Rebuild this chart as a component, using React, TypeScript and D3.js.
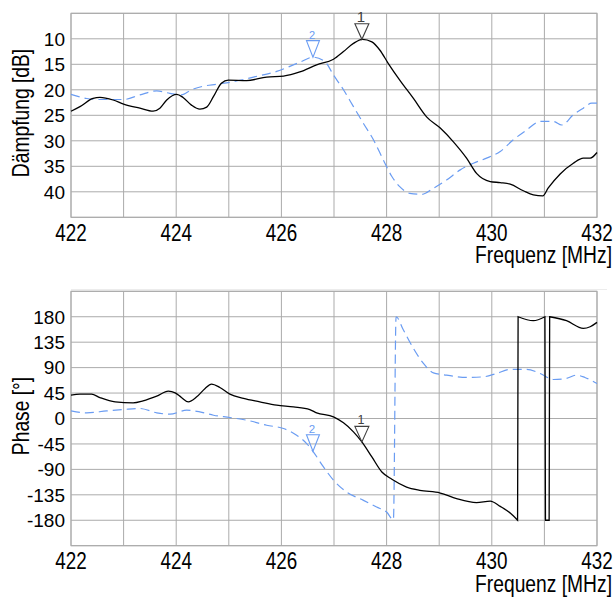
import React from "react";
import * as d3 from "d3";

// ---------- data ----------
const freqTicks = [422, 424, 426, 428, 430, 432];
const freqGrid = [422, 423, 424, 425, 426, 427, 428, 429, 430, 431, 432];
const dbTicks = [10, 15, 20, 25, 30, 35, 40];
const dbGrid = [5, 10, 15, 20, 25, 30, 35, 40, 45];
const phaseTicks = [180, 135, 90, 45, 0, -45, -90, -135, -180];
const phaseGrid = [225, 180, 135, 90, 45, 0, -45, -90, -135, -180, -225];

const dampBlack: [number, number][] = [
  [422, 24.2], [422.17, 23.3], [422.42, 21.7], [422.55, 21.5], [422.8, 22.0], [423.0, 22.8],
  [423.31, 23.6], [423.56, 24.2], [423.69, 23.6], [423.82, 22.0], [424.01, 20.9], [424.13, 21.5],
  [424.29, 23.0], [424.45, 23.8], [424.58, 23.4], [424.71, 21.3], [424.86, 18.7], [424.99, 18.1],
  [425.34, 18.2], [425.72, 17.5], [426.04, 17.3], [426.35, 16.5], [426.67, 15.1], [426.99, 14.0],
  [427.18, 12.5], [427.37, 10.9], [427.54, 10.1], [427.72, 10.6], [427.87, 12.2], [428.03, 14.8],
  [428.25, 18.1], [428.51, 21.7], [428.76, 25.3], [429.02, 27.5], [429.27, 30.2], [429.52, 33.4],
  [429.71, 36.4], [429.97, 38.0], [430.16, 38.2], [430.35, 38.5], [430.6, 39.8], [430.79, 40.6],
  [430.97, 40.8], [431.07, 39.3], [431.3, 36.5], [431.55, 34.4], [431.74, 33.4], [431.87, 33.4],
  [432.0, 32.3],
];

const dampBlue: [number, number][] = [
  [422, 20.9], [422.3, 21.7], [422.55, 21.9], [423, 21.9], [423.31, 21], [423.63, 20.2],
  [423.88, 20.7], [424.1, 21], [424.29, 20], [424.51, 19.3], [424.77, 18.9], [425.09, 18.4],
  [425.47, 17.5], [425.91, 16.4], [426.35, 14.6], [426.6, 13.6], [426.83, 14.5], [426.99, 17.1],
  [427.18, 20], [427.37, 23.3], [427.56, 26.6], [427.75, 29.8], [427.94, 33.8], [428.1, 37],
  [428.25, 39], [428.44, 40.3], [428.67, 40.5], [428.89, 39.3], [429.14, 37.7], [429.4, 35.7],
  [429.65, 34.4], [429.9, 33.4], [430.16, 32.1], [430.41, 29.8], [430.66, 27.9], [430.92, 26.2],
  [431.17, 26.2], [431.33, 26.9], [431.55, 24.9], [431.74, 23.6], [431.9, 22.6], [432, 22.6],
];

const phaseBlack: [number, number][] = [
  [422, 41.3], [422.17, 43], [422.39, 43], [422.55, 37], [422.84, 29.4], [423.18, 27.7],
  [423.37, 31.2], [423.63, 39.5], [423.85, 48.4], [423.98, 45.4], [424.1, 37.2], [424.23, 29.4],
  [424.39, 38.3], [424.55, 53.2], [424.67, 60.8], [424.83, 54.9], [425.02, 43], [425.28, 35.4],
  [425.59, 29.4], [425.91, 23.6], [426.23, 20.6], [426.54, 15.9], [426.67, 10], [426.99, 2.9],
  [427.18, -7.7], [427.37, -23.6], [427.53, -41.4], [427.72, -68], [427.91, -94.6], [428.1, -107.5],
  [428.38, -121.2], [428.63, -127], [429.02, -131.8], [429.33, -141.8], [429.71, -148.8],
  [429.97, -146], [430.16, -155.4], [430.35, -167.3], [430.49, -180],
  [430.5, 180], [430.79, 173], [431.01, 180], [431.02, -180], [431.09, -180], [431.1, 180],
  [431.42, 173], [431.74, 159.5], [431.87, 162.3], [432, 170],
];

const phaseBlue: [number, number][] = [
  [422, 13.5], [422.3, 10], [422.68, 13.5], [423, 15.9], [423.31, 17.7], [423.63, 10],
  [423.88, 7.6], [424.2, 14.7], [424.45, 11.7], [424.71, 5.8], [425.02, 1.8], [425.34, -3],
  [425.72, -11.9], [426.04, -17.7], [426.29, -29.6], [426.48, -44.3], [426.6, -58], [426.8, -85.7],
  [426.99, -109], [427.24, -130], [427.56, -144.8], [427.81, -156.6], [428.0, -165.5],
  [428.13, -179], [428.18, 180], [428.32, 156.4], [428.51, 124], [428.7, 97.4],
  [428.89, 80.8], [429.14, 76.7], [429.52, 72.6], [429.84, 73.7], [430.09, 79.7], [430.35, 86.8],
  [430.66, 86.8], [430.92, 79.7], [431.17, 69], [431.42, 70.9], [431.61, 76.7], [431.77, 72.6],
  [432, 62],
];

// markers: [freq, value, label]
const dampMarkers: [number, number, string][] = [
  [427.53, 10.1, "1"],
  [426.6, 13.6, "2"],
];
const phaseMarkers: [number, number, string][] = [
  [427.53, -41.4, "1"],
  [426.6, -58, "2"],
];

// ---------- layout ----------
const W = 615;
const H = 598;
const left = 71;
const right = 597;
const top1 = 13.3;
const bot1 = 217.3;
const top2 = 291.3;
const bot2 = 545.7;

const GRID = "#ababab";
const BLUE = "#6a9cf2";
const MARK1 = "#404040";
const FONT = "'Liberation Sans', Arial, sans-serif";

const x = d3.scaleLinear().domain([422, 432]).range([left, right]);
const yDb = d3.scaleLinear().domain([5, 45]).range([top1, bot1]);
const yPh = d3.scaleLinear().domain([225, -225]).range([top2, bot2]);

// split a series at its phase wraps (near-identical frequencies)
function splitSegments(data: [number, number][]): [number, number][][] {
  const segs: [number, number][][] = [[data[0]]];
  for (let i = 1; i < data.length; i++) {
    if (data[i][0] - data[i - 1][0] < 0.03) segs.push([data[i]]);
    else segs[segs.length - 1].push(data[i]);
  }
  return segs;
}

function buildPaths(data: [number, number][], y: d3.ScaleLinear<number, number>) {
  const line = d3.line<[number, number]>().x((d) => x(d[0])).y((d) => y(d[1])).curve(d3.curveMonotoneX);
  const segs = splitSegments(data);
  let d = "";
  const jumps: string[] = [];
  segs.forEach((s, i) => {
    const p = s.length > 1 ? line(s) || "" : `M${x(s[0][0])},${y(s[0][1])}`;
    d += i === 0 ? p : "L" + p.slice(1);
    if (i > 0) {
      const a = segs[i - 1][segs[i - 1].length - 1];
      const b = s[0];
      jumps.push(`M${x(a[0])},${y(a[1])}L${x(b[0])},${y(b[1])}`);
    }
  });
  return { d, jumps };
}

function NarrowText(props: {
  x: number; y: number; size: number; anchor?: string; rotate?: boolean; children: React.ReactNode;
}) {
  const t = `translate(${props.x},${props.y})${props.rotate ? " rotate(-90)" : ""} scale(0.82,1)`;
  return (
    <text transform={t} fontSize={props.size} fontFamily={FONT} textAnchor={props.anchor || "middle"} fill="#000">
      {props.children}
    </text>
  );
}

function Panel(props: {
  y: d3.ScaleLinear<number, number>;
  top: number;
  bot: number;
  grid: number[];
  ticks: number[];
  black: [number, number][];
  blue: [number, number][];
  markers: [number, number, string][];
  title: string;
  titleY: number;
  big: boolean;
}) {
  const { y, top, bot } = props;
  const bl = buildPaths(props.black, y);
  const bu = buildPaths(props.blue, y);
  return (
    <g>
      <rect x={left} y={top} width={right - left} height={bot - top} fill="#fff" />
      {freqGrid.map((f) => (
        <line key={"vx" + f} x1={x(f)} x2={x(f)} y1={top} y2={bot} stroke={GRID} strokeWidth={1} />
      ))}
      {props.grid.map((v) => (
        <line key={"hy" + v} x1={left} x2={right} y1={y(v)} y2={y(v)} stroke={GRID} strokeWidth={1} />
      ))}
      <rect x={left} y={top} width={right - left} height={bot - top} fill="none" stroke={GRID} strokeWidth={1} />
      {props.ticks.map((v) => (
        <text key={"yl" + v} x={65} y={y(v)} dy="0.36em" fontSize={19} fontFamily={FONT} textAnchor="end" fill="#000">
          {String(v)}
        </text>
      ))}
      {freqTicks.map((f) => (
        <NarrowText key={"xl" + f} x={x(f)} y={bot + 23.5} size={23}>
          {String(f)}
        </NarrowText>
      ))}
      <NarrowText x={612} y={bot + 46} size={23.5} anchor="end">Frequenz [MHz]</NarrowText>
      <NarrowText x={29} y={props.titleY} size={23.5} rotate>{props.title}</NarrowText>

      <path d={bu.d} fill="none" stroke={BLUE} strokeWidth={1.2} strokeDasharray="9,5" />
      {bu.jumps.map((j, i) => (
        <path key={"bj" + i} d={j} fill="none" stroke={BLUE} strokeWidth={1.3} />
      ))}
      <path d={bl.d} fill="none" stroke="#000" strokeWidth={1.3} />

      {props.markers.map(([f, v, lab]) => {
        const cx = x(f);
        const cy = y(v);
        const is1 = lab === "1";
        const col = is1 ? MARK1 : BLUE;
        const hw = is1 ? 7 : 6.5;
        const h = is1 ? 15.5 : 16.5;
        const fs = props.big ? (is1 ? 15 : 11) : (is1 ? 12.5 : 11.5);
        return (
          <g key={"m" + lab}>
            <path d={`M${cx - hw},${cy - h} L${cx + hw},${cy - h} L${cx},${cy} Z`} fill="none" stroke={col} strokeWidth={1.1} />
            <text x={cx - 1} y={cy - h - 2} fontSize={fs} fontFamily={FONT} textAnchor="middle" fill={col}>
              {lab}
            </text>
          </g>
        );
      })}
    </g>
  );
}

export default function App() {
  return (
    <svg width={W} height={H} viewBox={`0 0 ${W} ${H}`} style={{ position: "absolute", left: 0, top: 0, background: "#fff" }}>
      <rect x={0} y={0} width={W} height={H} fill="#fff" />
      <Panel y={yDb} top={top1} bot={bot1} grid={dbGrid} ticks={dbTicks} black={dampBlack} blue={dampBlue}
        markers={dampMarkers} title="Dämpfung [dB]" titleY={113} big={true} />
      <line x1={left} x2={right + 10} y1={289.5} y2={289.5} stroke="#ececec" strokeWidth={1} />
      <Panel y={yPh} top={top2} bot={bot2} grid={phaseGrid} ticks={phaseTicks} black={phaseBlack} blue={phaseBlue}
        markers={phaseMarkers} title="Phase [°]" titleY={416} big={false} />
    </svg>
  );
}
